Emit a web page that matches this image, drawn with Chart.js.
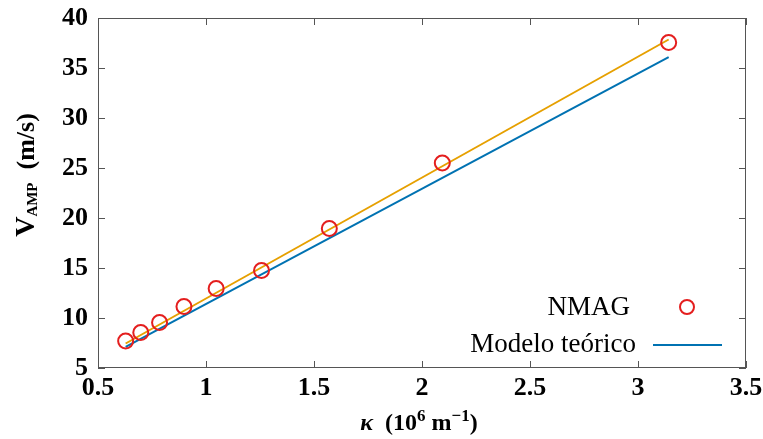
<!DOCTYPE html>
<html>
<head>
<meta charset="utf-8">
<script src="https://cdn.jsdelivr.net/npm/chart.js@4/dist/chart.umd.min.js"></script>
<style>
  html, body { margin: 0; padding: 0; background: #fff; }
  #wrap { width: 763px; height: 439px; }
</style>
</head>
<body>
<div id="wrap"><canvas id="grafico"></canvas></div>
<script>
// datos
const kNmag = [0.628, 0.698, 0.785, 0.898, 1.047, 1.257, 1.571, 2.094, 3.142];
const vNmag = [7.7, 8.55, 9.55, 11.15, 12.95, 14.75, 18.95, 25.5, 37.55];

const kAjuste = [0.628, 3.142];
const vAjuste = [7.45, 37.85];

const kModelo = [0.628, 3.142];
const vModelo = [7.12, 36.08];

const xTicks = ['0.5', '1', '1.5', '2', '2.5', '3', '3.5'];
const yTicks = ['5', '10', '15', '20', '25', '30', '35', '40'];

const rojo = 'rgb(228,30,30)';
const naranja = 'rgb(230,160,0)';
const azul = 'rgb(0,114,178)';
const serif = '"Liberation Serif", "Times New Roman", serif';

function pares(xs, ys) {
    return xs.map((x, i) => ({ x: x, y: ys[i] }));
}

// dibuja texto con sub/superindices, segmento por segmento
function textoRico(ctx, partes, x, y) {
    let total = 0;
    partes.forEach(p => { ctx.font = p.font; total += ctx.measureText(p.t).width; });
    let cx = x - total / 2;
    partes.forEach(p => {
        ctx.font = p.font;
        ctx.fillText(p.t, cx, y + (p.dy || 0));
        cx += ctx.measureText(p.t).width;
    });
}

// sin relleno extra por etiquetas que sobresalen
function sinRelleno(s) {
    s.paddingLeft = 0; s.paddingRight = 0;
    s.paddingTop = 0; s.paddingBottom = 0;
}

const extras = {
    id: 'extras',
    afterDatasetsDraw(chart) {
        const ctx = chart.ctx;
        const a = chart.chartArea;
        const sx = chart.scales.x, sy = chart.scales.y;
        ctx.save();

        // marco y marcas hacia dentro
        ctx.strokeStyle = '#555';
        ctx.lineWidth = 1;
        ctx.strokeRect(a.left + 0.5, a.top + 0.5, a.right - a.left - 1, a.bottom - a.top - 1);
        ctx.beginPath();
        sx.ticks.forEach(t => {
            const px = Math.round(sx.getPixelForValue(t.value)) + 0.5;
            ctx.moveTo(px, a.bottom); ctx.lineTo(px, a.bottom - 7);
            ctx.moveTo(px, a.top); ctx.lineTo(px, a.top + 7);
        });
        sy.ticks.forEach(t => {
            const py = Math.round(sy.getPixelForValue(t.value)) + 0.5;
            ctx.moveTo(a.left, py); ctx.lineTo(a.left + 7, py);
            ctx.moveTo(a.right, py); ctx.lineTo(a.right - 7, py);
        });
        ctx.stroke();

        // titulos de ejes
        ctx.fillStyle = '#000';
        ctx.textBaseline = 'alphabetic';
        ctx.textAlign = 'left';
        textoRico(ctx, [
            { t: 'κ', font: 'italic bold 24px ' + serif },
            { t: '  (10', font: 'bold 24px ' + serif },
            { t: '6', font: 'bold 17px ' + serif, dy: -9 },
            { t: ' m', font: 'bold 24px ' + serif },
            { t: '−1', font: 'bold 17px ' + serif, dy: -9 },
            { t: ')', font: 'bold 24px ' + serif }
        ], 419, 430);

        ctx.save();
        ctx.translate(34, 175);
        ctx.rotate(-Math.PI / 2);
        textoRico(ctx, [
            { t: 'V', font: 'bold 28px ' + serif },
            { t: 'AMP', font: 'bold 15px ' + serif, dy: 3 },
            { t: '  (m/s)', font: 'bold 26px ' + serif }
        ], 0, 0);
        ctx.restore();

        // leyenda
        ctx.font = '27px ' + serif;
        ctx.textAlign = 'right';
        ctx.fillText('NMAG', 630, 315);
        ctx.fillText('Modelo teórico', 636, 352);
        ctx.strokeStyle = rojo;
        ctx.lineWidth = 2;
        ctx.beginPath();
        ctx.arc(687, 307, 7, 0, Math.PI * 2);
        ctx.stroke();
        ctx.strokeStyle = azul;
        ctx.beginPath();
        ctx.moveTo(653, 345); ctx.lineTo(722, 345);
        ctx.stroke();
        ctx.restore();
    }
};

new Chart(document.getElementById('grafico'), {
    type: 'scatter',
    data: {
        datasets: [
            {
                label: 'NMAG',
                data: pares(kNmag, vNmag),
                pointStyle: 'circle',
                pointRadius: 7.5,
                pointBorderWidth: 2,
                pointBorderColor: rojo,
                pointBackgroundColor: 'rgba(0,0,0,0)',
                showLine: false
            },
            {
                label: 'Ajuste',
                data: pares(kAjuste, vAjuste),
                showLine: true,
                borderColor: naranja,
                borderWidth: 2,
                pointRadius: 0
            },
            {
                label: 'Modelo teórico',
                data: pares(kModelo, vModelo),
                showLine: true,
                borderColor: azul,
                borderWidth: 2,
                pointRadius: 0
            }
        ]
    },
    options: {
        responsive: true,
        maintainAspectRatio: false,
        animation: false,
        layout: { padding: { top: 18, right: 17, left: 0, bottom: 0 } },
        plugins: {
            legend: { display: false },
            tooltip: { enabled: false }
        },
        scales: {
            x: {
                type: 'linear',
                min: 0.5,
                max: 3.5,
                ticks: {
                    stepSize: 0.5,
                    padding: 5,
                    color: '#000',
                    font: { family: serif, size: 26, weight: 'bold' },
                    maxRotation: 0,
                    callback: (v, i) => xTicks[i]
                },
                grid: { display: false, drawTicks: false },
                border: { display: false },
                afterFit: s => { s.height = 71; sinRelleno(s); }
            },
            y: {
                type: 'linear',
                min: 5,
                max: 40,
                ticks: {
                    stepSize: 5,
                    padding: 10,
                    color: '#000',
                    font: { family: serif, size: 26, weight: 'bold' },
                    callback: (v, i) => yTicks[i]
                },
                grid: { display: false, drawTicks: false },
                border: { display: false },
                afterFit: s => { s.width = 98; sinRelleno(s); }
            }
        }
    },
    plugins: [extras]
});
</script>
</body>
</html>
